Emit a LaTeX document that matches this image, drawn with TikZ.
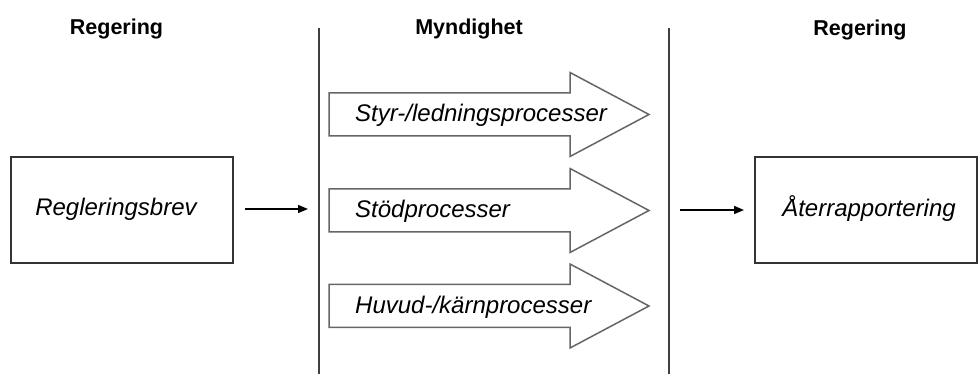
\documentclass[tikz,border=0pt]{standalone}
\usepackage{fontspec}
\setmainfont{Liberation Sans}
\usetikzlibrary{arrows.meta}
\begin{document}
\begin{tikzpicture}[x=1pt,y=-1pt,
  header/.style={font=\fontsize{21.5}{26}\selectfont\bfseries, anchor=base, inner sep=0pt},
  lbl/.style={font=\fontsize{24}{28}\selectfont\itshape, inner sep=0pt},
  boxline/.style={draw=black!80, line width=2pt},
  divider/.style={draw=black!75, line width=1.5pt},
  procarrow/.style={draw=black!60, line width=1.5pt, fill=white, line join=miter},
  conn/.style={draw=black, line width=1.4pt, -{Triangle[length=10pt,width=8pt]}}]
\useasboundingbox[fill=white] (0,0) rectangle (978,374);
% headers
\node[header] (h1) at (116.5,35) {Regering};
\node[header] (h2) at (469,35) {Myndighet};
\node[header] (h3) at (860,36) {Regering};
% dividers
\draw[divider] (319,28) -- (319,374);
\draw[divider] (669,28) -- (669,374);
% boxes
\draw[boxline] (11,157) rectangle (233,263);
\draw[boxline] (755,157) rectangle (977,263);
\node[lbl, anchor=base] (rb) at (116,216) {Regleringsbrev};
\node[lbl, anchor=base] (ar) at (869,217) {Återrapportering};
% process arrows
\foreach \c in {114.5,210.5,306}{
  \draw[procarrow] (329,\c-21.5) -- (570,\c-21.5) -- (570,\c-42) -- (649,\c)
     -- (570,\c+42) -- (570,\c+21.5) -- (329,\c+21.5) -- cycle;
}
\node[lbl, anchor=base west] (p1) at (355,122) {Styr-/ledningsprocesser};
\node[lbl, anchor=base west] (p2) at (355,218) {Stödprocesser};
\node[lbl, anchor=base west] (p3) at (355,313) {Huvud-/kärnprocesser};
% connectors
\coordinate (a1s) at (245,209);
\coordinate (a1e) at (308,209);
\coordinate (a2s) at (680,210);
\coordinate (a2e) at (744,210);
\draw[conn] (a1s) -- (a1e);
\draw[conn] (a2s) -- (a2e);
\end{tikzpicture}
\end{document}
